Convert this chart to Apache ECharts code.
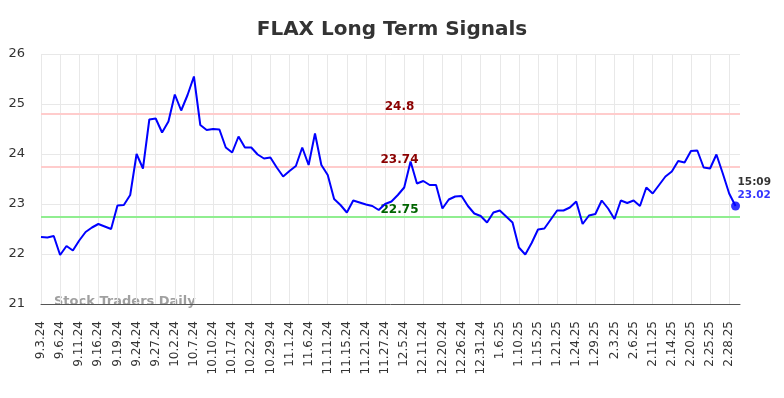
<!DOCTYPE html>
<html>
<head>
<meta charset="utf-8">
<title>FLAX Long Term Signals</title>
<script src="https://cdn.jsdelivr.net/npm/echarts@6/dist/echarts.min.js"></script>
<style>
  html, body { margin: 0; padding: 0; background: #fff; }
  #chart { width: 784px; height: 398px; }
</style>
</head>
<body>
<div id="chart"></div>
<script>
// tick labels on the x axis, one every 3 points
var dateLabels = ['9.3.24', '9.6.24', '9.11.24', '9.16.24', '9.19.24', '9.24.24', '9.27.24', '10.2.24', '10.7.24',
  '10.10.24', '10.17.24', '10.22.24', '10.29.24', '11.1.24', '11.6.24', '11.11.24', '11.15.24', '11.21.24',
  '11.27.24', '12.5.24', '12.11.24', '12.20.24', '12.26.24', '12.31.24', '1.6.25', '1.10.25', '1.15.25',
  '1.21.25', '1.24.25', '1.29.25', '2.3.25', '2.6.25', '2.11.25', '2.14.25', '2.20.25', '2.25.25', '2.28.25']
var pointsPerLabel = 3

// price
var prices = [
  22.34, 22.33, 22.36, 21.98, 22.16, 22.07, 22.27, 22.44, 22.53, 22.60,
  22.55, 22.50, 22.97, 22.98, 23.18, 24.00, 23.71, 24.69, 24.71, 24.43,
  24.65, 25.19, 24.87, 25.18, 25.55, 24.58, 24.48, 24.50, 24.49, 24.13,
  24.03, 24.35, 24.13, 24.13, 23.99, 23.91, 23.93, 23.73, 23.55, 23.66,
  23.76, 24.13, 23.78, 24.41, 23.78, 23.58, 23.10, 22.98, 22.83, 23.07,
  23.03, 22.99, 22.96, 22.88, 23.00, 23.05, 23.18, 23.33, 23.85, 23.41,
  23.46, 23.38, 23.38, 22.91, 23.09, 23.15, 23.16, 22.96, 22.81, 22.76,
  22.63, 22.83, 22.87, 22.75, 22.63, 22.13, 21.99, 22.22, 22.49, 22.51,
  22.69, 22.87, 22.87, 22.93, 23.05, 22.60, 22.77, 22.80, 23.07, 22.91,
  22.70, 23.07, 23.02, 23.07, 22.96, 23.33, 23.21, 23.38, 23.55, 23.65,
  23.86, 23.83, 24.06, 24.07, 23.73, 23.71, 23.99, 23.61, 23.21, 22.96
]

// signal levels
var resistHigh = 24.8
var resistLow = 23.74
var support = 22.75

var lastTime = '15:09'
var lastText = '23.02'

var yTicks = [21, 22, 23, 24, 25, 26]

var lineData = prices.map(function (v, i) { return [i, v] })
var lastIdx = prices.length - 1

var myChart = echarts.init(document.getElementById('chart'))

var option = {
  animation: false,
  textStyle: { fontFamily: 'DejaVu Sans' },
  title: {
    text: 'FLAX Long Term Signals',
    left: 'center',
    top: 15,
    textStyle: { fontSize: 20, fontWeight: 'bold', color: '#333', fontFamily: 'DejaVu Sans' }
  },
  grid: { left: 41, right: 44, top: 54, bottom: 94 },
  xAxis: {
    type: 'value',
    min: 0,
    max: 109.7,
    interval: pointsPerLabel,
    axisLine: { show: true, lineStyle: { color: '#555', width: 1 } },
    axisTick: { show: false },
    axisLabel: {
      rotate: 90,
      margin: 17,
      fontSize: 12,
      color: '#333',
      showMaxLabel: false,
      formatter: function (v) {
        if (v % pointsPerLabel !== 0) return ''
        return dateLabels[v / pointsPerLabel] || ''
      }
    },
    splitLine: { show: true, showMaxLine: false, lineStyle: { color: '#e8e8e8', width: 1 } }
  },
  yAxis: {
    type: 'value',
    min: yTicks[0],
    max: yTicks[yTicks.length - 1],
    interval: 1,
    axisLine: { show: false },
    axisTick: { show: false },
    axisLabel: { fontSize: 13, color: '#333', margin: 16 },
    splitLine: { lineStyle: { color: '#e8e8e8', width: 1 } }
  },
  graphic: [{
    type: 'text',
    left: 54,
    top: 295,
    style: { text: 'Stock Traders Daily', fill: 'rgba(120,120,120,0.7)', font: 'bold 13px "DejaVu Sans"' }
  }],
  series: [
    {
      type: 'line',
      data: lineData,
      showSymbol: false,
      lineStyle: { color: '#0000ff', width: 2 },
      itemStyle: { color: '#0000ff' },
      z: 5,
      markLine: {
        silent: true,
        symbol: ['none', 'none'],
        label: {
          position: 'insideMiddleTop',
          distance: 1,
          offset: [9, 0],
          fontSize: 12,
          fontWeight: 'bold',
          fontFamily: 'DejaVu Sans'
        },
        data: [
          { yAxis: resistHigh, lineStyle: { color: '#ffcccc', width: 2, type: 'solid' }, label: { formatter: String(resistHigh), color: '#8b0000' } },
          { yAxis: resistLow, lineStyle: { color: '#ffcccc', width: 2, type: 'solid' }, label: { formatter: String(resistLow), color: '#8b0000' } },
          { yAxis: support, lineStyle: { color: '#90ee90', width: 2, type: 'solid' }, label: { formatter: String(support), color: '#006400' } }
        ]
      }
    },
    {
      type: 'scatter',
      data: [lineData[lastIdx]],
      symbol: 'circle',
      symbolSize: 9,
      itemStyle: { color: '#0000ff' },
      z: 6,
      label: {
        show: true,
        position: [6.5, -25],
        align: 'left',
        verticalAlign: 'top',
        formatter: '{t|' + lastTime + '}\n{v|' + lastText + '}',
        rich: {
          t: { fontSize: 10.5, fontWeight: 'bold', color: '#000', lineHeight: 12.5, fontFamily: 'DejaVu Sans' },
          v: { fontSize: 10.5, fontWeight: 'bold', color: '#0000ff', lineHeight: 12.5, fontFamily: 'DejaVu Sans' }
        }
      }
    }
  ]
}

myChart.setOption(option)
</script>
</body>
</html>
